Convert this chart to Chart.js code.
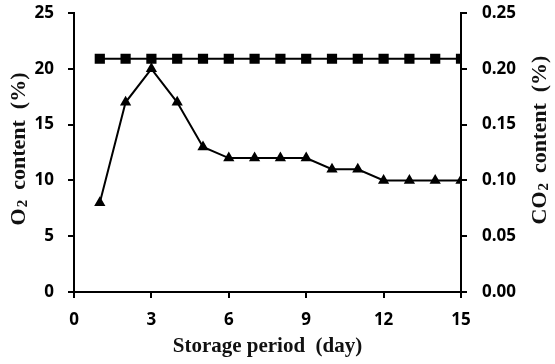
<!DOCTYPE html>
<html>
<head>
<meta charset="utf-8">
<script src="https://cdn.jsdelivr.net/npm/chart.js@4"></script>
<style>
  html, body { margin: 0; padding: 0; background: #fff; }
  #wrap { width: 555px; height: 364px; }
</style>
</head>
<body>
<div id="wrap"><canvas id="chartCanvas" width="555" height="364"></canvas></div>
<script>
// storage days
const days = [1, 2, 3, 4, 5, 6, 7, 8, 9, 10, 11, 12, 13, 14, 15];
// O2 content (%), left axis
const o2Values = [20.9, 20.9, 20.9, 20.9, 20.9, 20.9, 20.9, 20.9, 20.9, 20.9, 20.9, 20.9, 20.9, 20.9, 20.9];
// CO2 content (%), right axis
const co2Values = [0.08, 0.17, 0.20, 0.17, 0.13, 0.12, 0.12, 0.12, 0.12, 0.11, 0.11, 0.10, 0.10, 0.10, 0.10];

const tickFont = { family: '"Open Sans", sans-serif', size: 17, weight: 'bold' };
const titleFont = { family: '"Liberation Serif", serif', size: 21, weight: 'bold' };

const toPoints = (vals) => vals.map((v, i) => ({ x: days[i], y: v }));

// y titles read bottom-to-top with a subscript 2, drawn by hand
function drawSubTitle(c, x, y, head, tail) {
    const big = 'bold 22px "Liberation Serif", serif';
    const small = 'bold 15px "Liberation Serif", serif';
    c.font = big;
    const wHead = c.measureText(head).width;
    const wTail = c.measureText(tail).width;
    c.font = small;
    const wSub = c.measureText('2').width;
    const total = wHead + wSub + wTail;
    c.save();
    c.translate(x, y);
    c.rotate(-Math.PI / 2);
    c.textBaseline = 'alphabetic';
    c.textAlign = 'left';
    let pos = -total / 2;
    c.font = big;
    c.fillText(head, pos, 7);
    pos += wHead;
    c.font = small;
    c.fillText('2', pos + 1, 9);
    pos += wSub;
    c.font = big;
    c.fillText(tail, pos, 7);
    c.restore();
}

const sideTitles = {
    id: 'sideTitles',
    afterDraw(chart) {
        const c = chart.ctx;
        c.save();
        c.fillStyle = '#111';
        c.wordSpacing = '4px';
        drawSubTitle(c, 18, 149, 'O', '  content  (%)');
        drawSubTitle(c, 539, 140, 'CO', '  content  (%)');
        c.restore();
    }
};

const ctx = document.getElementById('chartCanvas').getContext('2d');
new Chart(ctx, {
    type: 'line',
    data: {
        datasets: [
            {
                label: 'O2',
                data: toPoints(o2Values),
                yAxisID: 'y',
                borderColor: '#000',
                backgroundColor: '#000',
                borderWidth: 2,
                pointStyle: 'rect',
                pointRadius: 5.8,
                tension: 0
            },
            {
                label: 'CO2',
                data: toPoints(co2Values),
                yAxisID: 'y1',
                borderColor: '#000',
                backgroundColor: '#000',
                borderWidth: 2,
                pointStyle: 'triangle',
                pointRadius: 4.5,
                tension: 0
            }
        ]
    },
    options: {
        responsive: false,
        animation: false,
        layout: { padding: { top: 13, left: 0, right: 0, bottom: 0 } },
        plugins: { legend: { display: false }, tooltip: { enabled: false } },
        scales: {
            x: {
                type: 'linear',
                min: 0,
                max: 15,
                ticks: { stepSize: 3, color: '#000', font: tickFont, padding: 12 },
                grid: { drawOnChartArea: false, drawTicks: true, tickLength: 6, color: '#000', lineWidth: 2 },
                border: { display: true, color: '#000', width: 2 },
                title: { display: true, text: 'Storage period  (day)', color: '#111', font: titleFont, padding: { top: 0, bottom: 5 } },
                afterFit: (s) => { s.height = 72; s.paddingLeft = 0; s.paddingRight = 0; }
            },
            y: {
                position: 'left',
                min: 0,
                max: 25,
                ticks: { stepSize: 5, color: '#000', font: tickFont, padding: 14 },
                grid: { drawOnChartArea: false, drawTicks: true, tickLength: 6, color: '#000', lineWidth: 2 },
                border: { display: true, color: '#000', width: 2 },
                afterFit: (s) => { s.width = 74; s.paddingTop = 0; s.paddingBottom = 0; }
            },
            y1: {
                position: 'right',
                min: 0,
                max: 0.25,
                ticks: { stepSize: 0.05, color: '#000', font: tickFont, padding: 15,
                    callback: (v) => v.toFixed(2) },
                grid: { drawOnChartArea: false, drawTicks: true, tickLength: 6, color: '#000', lineWidth: 2 },
                border: { display: true, color: '#000', width: 2 },
                afterFit: (s) => { s.width = 94; s.paddingTop = 0; s.paddingBottom = 0; }
            }
        }
    },
    plugins: [sideTitles]
});
</script>
</body>
</html>
